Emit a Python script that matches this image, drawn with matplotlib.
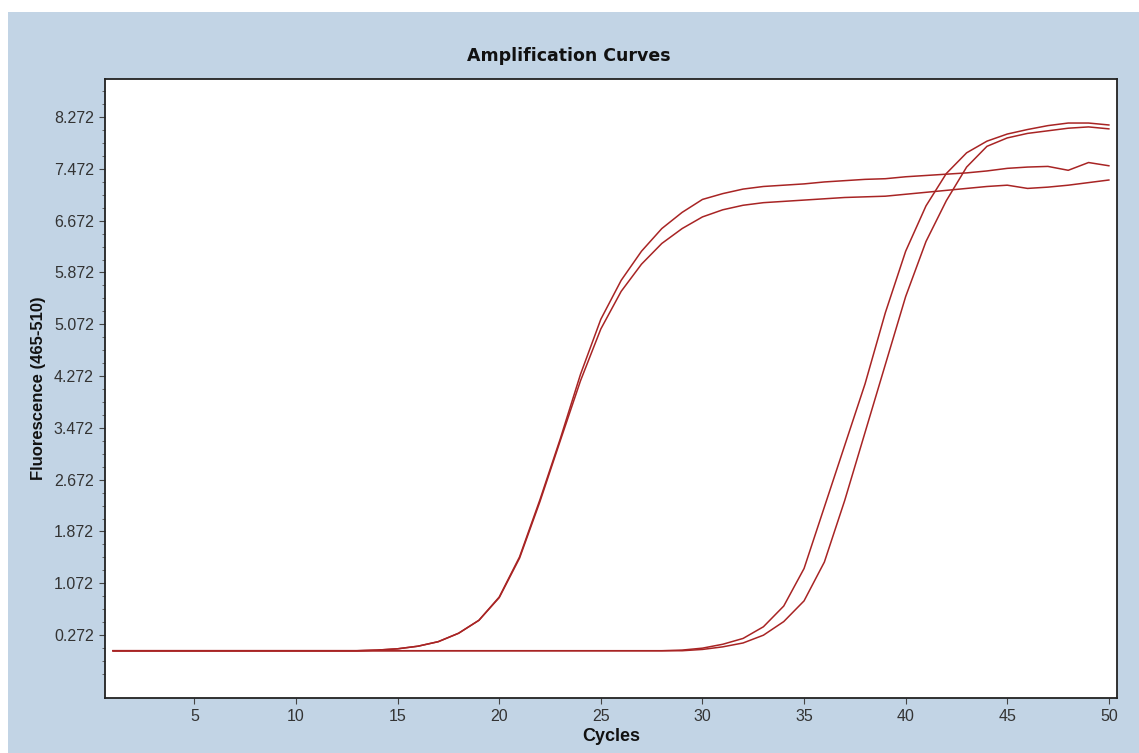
import matplotlib
matplotlib.use("Agg")
import matplotlib.pyplot as plt
from matplotlib.patches import Rectangle
from matplotlib.ticker import FixedLocator, FormatStrFormatter

plt.rcParams['font.family'] = ['Liberation Sans', 'DejaVu Sans']

cycles = list(range(1, 51))

early_upper = [0.03]*13 + [0.04, 0.06, 0.10, 0.17, 0.30, 0.50, 0.86, 1.48, 2.36,
               3.30, 4.30, 5.15, 5.75, 6.20, 6.55, 6.80, 7.00, 7.09, 7.16,
               7.20, 7.22, 7.24, 7.27, 7.29, 7.31, 7.32, 7.35, 7.37, 7.39,
               7.41, 7.44, 7.48, 7.50, 7.51, 7.45, 7.57, 7.52]
early_lower = [0.03]*13 + [0.04, 0.06, 0.10, 0.17, 0.30, 0.50, 0.85, 1.46, 2.33,
               3.27, 4.20, 5.00, 5.58, 6.00, 6.32, 6.55, 6.73, 6.84, 6.91,
               6.95, 6.97, 6.99, 7.01, 7.03, 7.04, 7.05, 7.08, 7.11, 7.14,
               7.17, 7.20, 7.22, 7.17, 7.19, 7.22, 7.26, 7.30]
late_left = [0.03]*28 + [0.04, 0.07, 0.13, 0.22, 0.40, 0.72, 1.30, 2.25, 3.20,
             4.15, 5.25, 6.20, 6.90, 7.40, 7.72, 7.90, 8.01, 8.08, 8.14,
             8.18, 8.18, 8.15]
late_right = [0.03]*28 + [0.03, 0.05, 0.09, 0.15, 0.27, 0.48, 0.80, 1.40, 2.35,
              3.40, 4.45, 5.50, 6.35, 6.98, 7.50, 7.82, 7.95, 8.02, 8.06,
              8.10, 8.12, 8.09]

series = [early_upper, early_lower, late_left, late_right]

x_ticks = [5, 10, 15, 20, 25, 30, 35, 40, 45, 50]
y_ticks = [0.272, 1.072, 1.872, 2.672, 3.472, 4.272, 5.072, 5.872, 6.672, 7.472, 8.272]

title = "Amplification Curves"
xlabel = "Cycles"
ylabel = "Fluorescence (465-510)"

W, H = 1139, 753
fig = plt.figure(figsize=(W/100, H/100), dpi=100, facecolor="white")
bg = "#c2d4e5"
fig.patches.append(Rectangle((8/W, 0), 1 - 8/W, (H-12)/H, transform=fig.transFigure,
                             facecolor=bg, edgecolor="none", zorder=-10))

L, R, T, B = 105, 1117, 79, 698
ax = fig.add_axes([L/W, (H-B)/H, (R-L)/W, (B-T)/H])
ax.set_facecolor("white")

for s in series:
    ax.plot(cycles, s, color="#a82424", lw=1.1, solid_joinstyle="round")

ax.set_xlim(0.6, 50.4)
ax.set_ylim(-0.70, 8.86)
ax.xaxis.set_major_locator(FixedLocator(x_ticks))
ax.yaxis.set_major_locator(FixedLocator(y_ticks))
ax.yaxis.set_major_formatter(FormatStrFormatter("%.3f"))
ax.yaxis.set_minor_locator(FixedLocator([v + d for v in [-0.528] + y_ticks for d in (0.2, 0.4, 0.6)]))

ax.tick_params(axis="both", which="major", direction="out", length=4, width=0.8,
               color="#444444", labelcolor="#333333", labelsize=11.5)
ax.tick_params(axis="x", which="major", pad=4)
ax.tick_params(axis="y", which="major", pad=4)
ax.tick_params(axis="y", which="minor", direction="out", length=2.5, width=0.7, color="#666666")

for sp in ax.spines.values():
    sp.set_color("#222222")
    sp.set_linewidth(1.3)

fig.text(569/W, 1 - 56/H, title, ha="center", va="center", fontsize=12.5,
         fontweight="bold", family="DejaVu Sans", color="#111111")
ax.set_xlabel(xlabel, fontsize=13, fontweight="bold", color="#111111", labelpad=3)
ax.set_ylabel(ylabel, fontsize=12, fontweight="bold", color="#111111", labelpad=6)

fig.savefig("out.png", dpi=100, facecolor="white")
